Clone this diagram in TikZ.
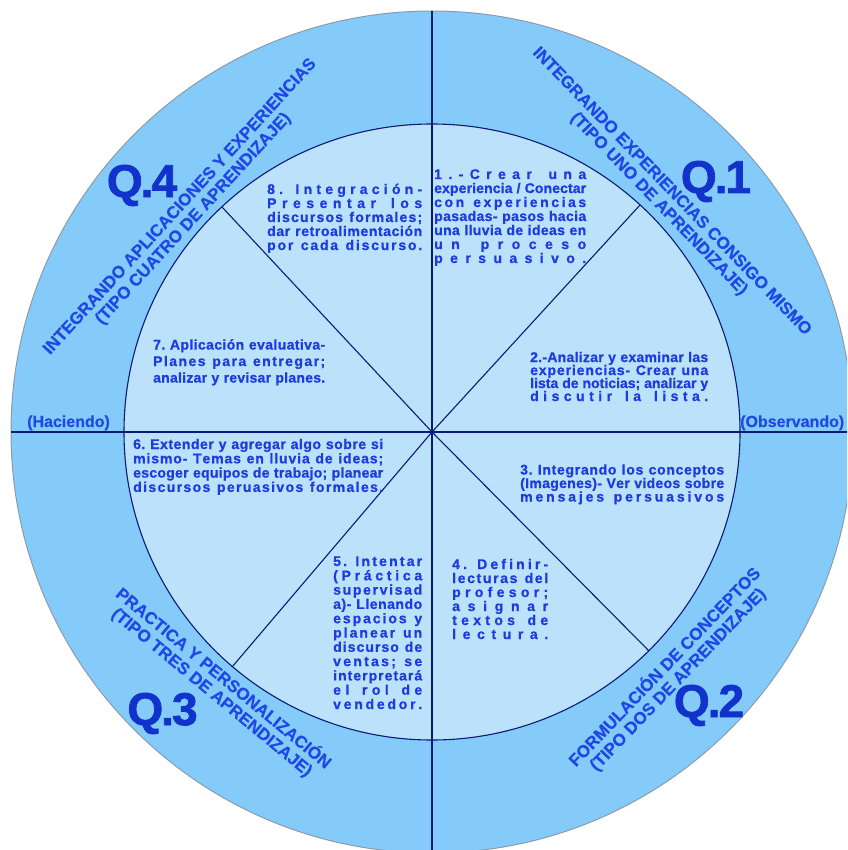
\documentclass[tikz,border=0pt]{standalone}
\usepackage{fontspec}
\setmainfont{Liberation Sans}
\newfontfamily\blkfont{Liberation Sans}[FakeBold=0.9]
\newfontfamily\ringfont{Liberation Sans}[FakeBold=0.4]
\newfontfamily\qfont{Liberation Sans}[FakeBold=1.6]
\definecolor{ringfill}{HTML}{84CBF9}
\definecolor{innerfill}{HTML}{BBE1FB}
\definecolor{navy}{HTML}{0B1A78}
\definecolor{outerborder}{HTML}{8A9BB0}
\definecolor{txtblue}{HTML}{1C3CE0}
\definecolor{ringblue}{HTML}{2048E6}
\definecolor{qblue}{HTML}{1133CC}
\ExplSyntaxOn
\dim_new:N \l_my_w_dim
\seq_new:N \l_my_words_seq
\seq_new:N \l_my_lines_seq
\bool_new:N \l_my_firstw_bool
\bool_new:N \l_my_firstc_bool
\cs_new_protected:Npn \my_dist:n #1
  {
    \seq_set_split:Nnn \l_my_words_seq { ~ } { #1 }
    \bool_set_true:N \l_my_firstw_bool
    \seq_map_inline:Nn \l_my_words_seq
      {
        \bool_if:NF \l_my_firstw_bool
          { \hfil \hskip \fontdimen2 \font \relax \hfil }
        \bool_set_false:N \l_my_firstw_bool
        \bool_set_true:N \l_my_firstc_bool
        \tl_map_inline:nn { ##1 }
          {
            \bool_if:NF \l_my_firstc_bool { \hfil }
            \bool_set_false:N \l_my_firstc_bool
            ####1
          }
      }
  }
\cs_new_protected:Npn \my_block:nnn #1#2#3
  {
    \vtop
      {
        \dim_set:Nn \l_my_w_dim {#1}
        \skip_set:Nn \baselineskip {#2}
        \skip_set:Nn \lineskip {0pt}
        \dim_set:Nn \lineskiplimit { -\c_max_dim }
        \seq_set_split:Nnn \l_my_lines_seq { | } {#3}
        \seq_map_inline:Nn \l_my_lines_seq
          { \hbox_to_wd:nn { \l_my_w_dim } { \my_dist:n {##1} } }
      }
  }
\NewDocumentCommand \distblock { m m m } { \my_block:nnn {#1} {#2} {#3} }
\ExplSyntaxOff
\tikzset{
  blocktext/.style={font=\blkfont\bfseries\fontsize{14}{14}\selectfont, text=txtblue, inner sep=0pt, anchor=base west},
  ringlbl/.style={font=\ringfont\bfseries\fontsize{17}{18}\selectfont, text=ringblue, align=center, inner sep=0pt},
  qlbl/.style={font=\qfont\bfseries\fontsize{46}{46}\selectfont, text=qblue, inner sep=0pt, anchor=base},
  sidelbl/.style={font=\ringfont\bfseries\fontsize{16}{16}\selectfont, text=ringblue, inner sep=0pt, anchor=base west},
  divider/.style={draw=navy, line width=1.1pt}
}
\begin{document}
\begin{tikzpicture}[x=1pt,y=-1pt]
\useasboundingbox (0,0) rectangle (847,850);
\fill[white] (0,0) rectangle (847,850);
\clip (0,0) rectangle (847,850);
\coordinate (O) at (432,432);
\coordinate (L) at (11,432);
\coordinate (R) at (853,432);
\coordinate (T) at (432,11);
\coordinate (B) at (432,853);
\coordinate (d1) at (640,205);
\coordinate (d4) at (222,207);
\coordinate (d2) at (649,651);
\coordinate (d3) at (232,667);
% circles
\fill[ringfill, draw=outerborder, line width=1pt] (O) circle[radius=421pt];
\fill[innerfill, draw=navy, line width=1.1pt] (O) circle[radius=308pt];
% dividers
\draw[divider] (L) -- (R);
\draw[divider] (T) -- (B);
\draw[divider] (O) -- (d1);
\draw[divider] (O) -- (d2);
\draw[divider] (O) -- (d3);
\draw[divider] (O) -- (d4);
% inner texts
\node[blocktext] (b8) at (267,194) {\distblock{155pt}{14pt}{8. Integración-|Presentar los|discursos formales;|dar retroalimentación|por cada discurso.}};
\node[blocktext] (b1) at (434,179) {\distblock{152pt}{14pt}{1.-Crear una|experiencia / Conectar|con experiencias|pasadas- pasos hacia|una lluvia de ideas en|un proceso|persuasivo.}};
\node[blocktext] (b2) at (530,362) {\distblock{178pt}{13pt}{2.-Analizar y examinar las|experiencias- Crear una|lista de noticias; analizar y|discutir la lista.}};
\node[blocktext] (b3) at (520,474.5) {\distblock{204pt}{13.5pt}{3. Integrando los conceptos|(Imagenes)- Ver videos sobre|mensajes persuasivos}};
\node[blocktext] (b4) at (452,569) {\distblock{96pt}{14pt}{4. Definir-|lecturas del|profesor;|asignar|textos de|lectura.}};
\node[blocktext] (b5) at (333,566) {\distblock{89pt}{14.3pt}{5. Intentar|(Práctica|supervisad|a)- Llenando|espacios y|planear un|discurso de|ventas; se|interpretará|el rol de|vendedor.}};
\node[blocktext] (b6) at (133,449) {\distblock{250pt}{14.3pt}{6. Extender y agregar algo sobre si|mismo- Temas en lluvia de ideas;|escoger equipos de trabajo; planear|discursos peruasivos formales.}};
\node[blocktext] (b7) at (153,349.5) {\distblock{172pt}{16.5pt}{7. Aplicación evaluativa-|Planes para entregar;|analizar y revisar planes.}};
% ring labels
\node[ringlbl, rotate=47.5] (r4) at (187,213) {INTEGRANDO APLICACIONES Y EXPERIENCIAS\\(TIPO CUATRO DE APRENDIZAJE)};
\node[ringlbl, rotate=-46] (r1) at (665,198) {INTEGRANDO EXPERIENCIAS CONSIGO MISMO\\(TIPO UNO DE APRENDIZAJE)};
\node[ringlbl, rotate=46.2] (r2) at (671,673) {FORMULACIÓN DE CONCEPTOS\\(TIPO DOS DE APRENDIZAJE)};
\node[ringlbl, rotate=-39.5] (r3) at (218,685) {PRACTICA Y PERSONALIZACIÓN\\(TIPO TRES DE APRENDIZAJE)};
% Q labels
\node[qlbl] (q4) at (142,197) {Q\kern-2pt.\kern-2pt4};
\node[qlbl] (q1) at (716,193) {Q\kern-2pt.\kern-2pt1};
\node[qlbl] (q2) at (709,717) {Q\kern-2pt.\kern-2pt2};
\node[qlbl] (q3) at (162.5,725) {Q\kern-2pt.\kern-2pt3};
% side labels
\node[sidelbl] (hac) at (27,427) {(Haciendo)};
\node[sidelbl] (obs) at (740,427) {(Observando)};
\end{tikzpicture}
\end{document}
